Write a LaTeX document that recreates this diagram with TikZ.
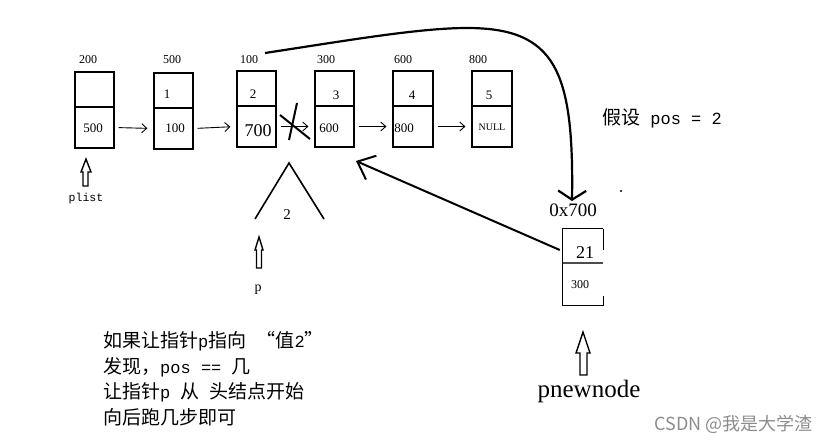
\documentclass[tikz,border=0pt]{standalone}
\usepackage{fontspec}
\setmainfont{Liberation Serif}
\setmonofont{Liberation Mono}
\newfontfamily\cjk{Noto Sans CJK SC}
\usetikzlibrary{arrows.meta}
\newcommand{\lat}[1]{{\ttfamily\fontsize{17}{17}\selectfont #1}}
\tikzset{
  cell/.style={draw, line width=1.2pt, inner sep=0pt, minimum width=39pt},
  topcell/.style={cell, minimum height=35pt},
  botcell/.style={cell, minimum height=41pt},
  addr/.style={inner sep=0pt, font=\fontsize{12}{12}\selectfont},
  val/.style={inner sep=0pt, font=\fontsize{13}{13}\selectfont},
  link/.style={line width=0.9pt, -{Straight Barb[length=5pt,width=9pt]}, shorten <=4pt, shorten >=6pt},
  hollow/.style={draw, line width=1.4pt, line join=miter},
  thickline/.style={line width=2pt},
  cjktext/.style={inner sep=0pt, anchor=west, font=\cjk\fontsize{19}{19}\selectfont}
}
\begin{document}
\begin{tikzpicture}[x=1pt,y=-1pt]
\useasboundingbox (0,0) rectangle (829,445);
% list boxes
\node[topcell] (b1t) at (94.5,89.5) {};
\node[botcell] (b1b) at (94.5,127.5) {};
\node[topcell] (b2t) at (173.5,90.5) {};
\node[botcell] (b2b) at (173.5,128.5) {};
\node[topcell] (b3t) at (256.5,88.5) {};
\node[botcell] (b3b) at (256.5,126.5) {};
\node[topcell] (b4t) at (334.5,88.5) {};
\node[botcell] (b4b) at (334.5,126.5) {};
\node[topcell, minimum width=40pt] (b5t) at (413,88.5) {};
\node[botcell, minimum width=40pt] (b5b) at (413,126.5) {};
\node[topcell, minimum width=40pt] (b6t) at (492,88.5) {};
\node[botcell, minimum width=40pt] (b6b) at (492,126.5) {};
% addresses
\node[addr] (a1) at (88,60) {200};
\node[addr] (a2) at (172,60) {500};
\node[addr] (a3) at (249,60) {100};
\node[addr] (a4) at (326,60) {300};
\node[addr] (a5) at (403,60) {600};
\node[addr] (a6) at (478,60) {800};
% data values
\node[val] (d2) at (167,94) {1};
\node[val] (d3) at (253,94) {2};
\node[val] (d4) at (336,95) {3};
\node[val] (d5) at (412,95) {4};
\node[val] (d6) at (489,95) {5};
% next values
\node[val] (n1) at (93,128) {500};
\node[val] (n2) at (175,128) {100};
\node[inner sep=0pt, font=\fontsize{18}{18}\selectfont] (n3) at (258,131) {700};
\node[val] (n4) at (329,128) {600};
\node[val] (n5) at (404,128) {800};
\node[inner sep=0pt, font=\fontsize{10}{10}\selectfont] (n6) at (492,127) {NULL};
% links
\draw[link] (b1b.east) -- (b2b.west);
\draw[link] (b2b.east) -- (b3b.west);
\draw[link] (b3b.east) -- (b4b.west);
\draw[link] (b4b.east) -- (b5b.west);
\draw[link] (b5b.east) -- (b6b.west);
% cross
\draw[thickline] (280,115) -- (310,139);
\draw[thickline] (297,103) -- (289,140);
% triangle and 2
\draw[line width=1.6pt] (255,219) -- (289,163) -- (324,219);
\node[inner sep=0pt, font=\fontsize{15}{15}\selectfont] (two) at (287,215) {2};
% plist pointer
\draw[hollow] (86,159) -- (91,172) -- (88,172) -- (88,186) -- (83,186) -- (83,172) -- (81,172) -- cycle;
\node[inner sep=0pt, font=\ttfamily\fontsize{11.5}{11.5}\selectfont] (plist) at (86,199) {plist};
% p pointer
\draw[hollow] (259,237) -- (263,250) -- (261.5,250) -- (261.5,268) -- (256.5,268) -- (256.5,250) -- (255,250) -- cycle;
\node[inner sep=0pt, font=\fontsize{14}{14}\selectfont] (plbl) at (258,290) {p};
% new node
\node[inner sep=0pt, minimum width=40pt, minimum height=34pt] (nt) at (583,246) {};
\node[inner sep=0pt, minimum width=40pt, minimum height=42pt] (nb) at (583,284) {};
\draw[line width=1.2pt] (nt.north east) -- (nt.north west) -- (nb.south west) -- (nb.south east) -- ++(0,-9);
\draw[line width=1.2pt] (nt.north east) -- ++(0,21);
\draw[line width=1.6pt, black!70] (nt.south west) -- (nt.south east);
\node[inner sep=0pt, font=\fontsize{18}{18}\selectfont] (v21) at (585,253) {21};
\node[inner sep=0pt, font=\fontsize{12}{12}\selectfont] (v300) at (580,285) {300};
\node[inner sep=0pt, font=\fontsize{19}{19}\selectfont] (hex) at (573,210) {0x700};
% curve from address 100 to 0x700
\coordinate (cs) at (265,53);
\coordinate (cm) at (467,28);
\coordinate (ce) at (572,201);
\draw[line width=2.2pt, -{Straight Barb[length=9pt,width=28pt]}] (cs) .. controls (350,40) and (420,28) .. (cm) .. controls (555,28) and (574,70) .. (ce);
% arrow from new node to list
\coordinate (tgt) at (356,161);
\draw[line width=2pt, -{Straight Barb[length=15pt,width=26pt]}] ([yshift=-4pt]nt.west) ++(-3,0) -- (tgt);
% dot
\fill (621,191) circle (1.1pt);
% pnewnode pointer
\draw[hollow] (583,332) -- (590,353) -- (587,353) -- (587,375) -- (580,375) -- (580,353) -- (576,353) -- cycle;
\node[inner sep=0pt, font=\fontsize{25}{25}\selectfont] (pnew) at (589,391) {pnewnode};
% assumption
\node[cjktext] (assume) at (602,118) {假设\lat{ pos = 2}};
% explanation
\node[cjktext] (l1) at (103,341) {如果让指针\lat{p}指向\lat{ }\makebox[19pt][r]{“}值\lat{2}\makebox[19pt][l]{”}};
\node[cjktext] (l2) at (103,367) {发现，\lat{pos == }几};
\node[cjktext] (l3) at (103,392) {让指针\lat{p }从\lat{ }头结点开始};
\node[cjktext] (l4) at (103,417) {向后跑几步即可};
% watermark
\node[inner sep=0pt, anchor=east, text=black!45, font=\cjk\fontsize{18}{18}\selectfont] (wm) at (813,424) {CSDN @我是大学渣};
\end{tikzpicture}
\end{document}
